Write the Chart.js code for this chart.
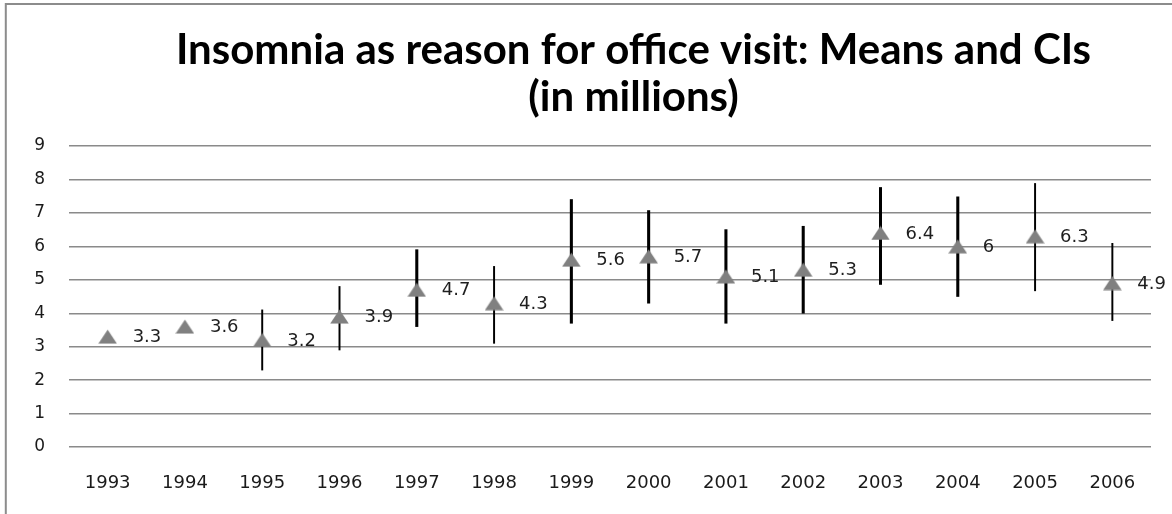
<!DOCTYPE html>
<html>
<head>
<meta charset="utf-8">
<script src="https://cdn.jsdelivr.net/npm/chart.js@4/dist/chart.umd.min.js"></script>
<style>
  html, body { margin: 0; padding: 0; background: #ffffff; }
  #wrap { width: 1172px; height: 514px; position: relative; }
</style>
</head>
<body>
<div id="wrap"><canvas id="c" width="1172" height="514"></canvas></div>
<script>
// ---- data ----
const years = ['1993','1994','1995','1996','1997','1998','1999','2000','2001','2002','2003','2004','2005','2006'];
const means = [3.3, 3.6, 3.2, 3.9, 4.7, 4.3, 5.6, 5.7, 5.1, 5.3, 6.4, 6.0, 6.3, 4.9];
const ciLow  = [null, null, 2.3, 2.9, 3.6, 3.1, 3.7, 4.3, 3.7, 4.0, 4.86, 4.5, 4.67, 3.78];
const ciHigh = [null, null, 4.1, 4.8, 5.9, 5.4, 7.4, 7.07, 6.5, 6.6, 7.76, 7.48, 7.88, 6.09];
const yTicks = [0, 1, 2, 3, 4, 5, 6, 7, 8, 9];
const titleLines = ['Insomnia as reason for office visit: Means and CIs', '(in millions)'];

// ---- styles ----
const thickBars = ['1997','1999','2000','2001','2002','2003','2004'];
const gridColor = '#8a8a8a';
const markerColor = '#808080';

// triangle marker image
const tri = document.createElement('canvas');
tri.width = 19; tri.height = 15;
(function () {
  const t = tri.getContext('2d');
  t.fillStyle = markerColor;
  t.beginPath();
  t.moveTo(9.5, 0.5);
  t.lineTo(18.8, 14.5);
  t.lineTo(0.2, 14.5);
  t.closePath();
  t.fill();
})();

const ciThick = years.map((y, i) => (ciLow[i] != null && thickBars.includes(y)) ? [ciLow[i], ciHigh[i]] : null);
const ciThin  = years.map((y, i) => (ciLow[i] != null && !thickBars.includes(y)) ? [ciLow[i], ciHigh[i]] : null);

const frame = {
  id: 'frame',
  beforeDraw(chart) {
    const ctx = chart.ctx;
    ctx.save();
    ctx.fillStyle = '#ffffff';
    ctx.fillRect(0, 0, chart.width, chart.height);
    ctx.strokeStyle = '#8c8c8c';
    ctx.lineWidth = 2;
    ctx.beginPath();
    ctx.moveTo(5.8, chart.height);
    ctx.lineTo(5.8, 4);
    ctx.lineTo(chart.width, 4);
    ctx.stroke();
    ctx.restore();
  }
};

const titleShift = {
  id: 'titleShift',
  afterLayout(chart) {
    if (chart.titleBlock) chart.titleBlock.left += 116;
  }
};

const valueLabels = {
  id: 'valueLabels',
  afterDatasetsDraw(chart) {
    const ctx = chart.ctx;
    const meta = chart.getDatasetMeta(0);
    ctx.save();
    ctx.font = '18px "DejaVu Sans"';
    ctx.fillStyle = '#1e1e1e';
    ctx.textAlign = 'left';
    ctx.textBaseline = 'middle';
    meta.data.forEach((pt, i) => {
      ctx.fillText(String(means[i]), pt.x + 25, pt.y + 1);
    });
    ctx.restore();
  }
};

new Chart(document.getElementById('c'), {
  type: 'bar',
  data: {
    labels: years,
    datasets: [
      {
        type: 'line',
        label: 'Mean',
        data: means,
        showLine: false,
        pointStyle: tri,
        pointRadius: 10,
        order: 0
      },
      {
        label: 'CI thick',
        data: ciThick,
        backgroundColor: '#000000',
        borderWidth: 0,
        barThickness: 2.4,
        grouped: false,
        order: 1
      },
      {
        label: 'CI thin',
        data: ciThin,
        backgroundColor: '#000000',
        borderWidth: 0,
        barThickness: 1.3,
        grouped: false,
        order: 1
      }
    ]
  },
  options: {
    responsive: false,
    animation: false,
    devicePixelRatio: 1,
    layout: { padding: { left: 0, right: 21, top: 0, bottom: 0 } },
    plugins: {
      legend: { display: false },
      tooltip: { enabled: false },
      title: {
        display: true,
        text: titleLines,
        color: '#000000',
        font: { family: 'Lato', weight: 'bold', size: 42, lineHeight: '47px' },
        padding: { top: 26.5, bottom: 25.5 }
      }
    },
    scales: {
      x: {
        grid: { display: false, drawTicks: false },
        border: { display: false },
        ticks: {
          color: '#1a1a1a',
          font: { family: 'DejaVu Sans', size: 18, lineHeight: 1.2 },
          padding: 25.2,
          maxRotation: 0,
          autoSkip: false
        },
        afterFit(s) { s.height = 67; }
      },
      y: {
        min: 0,
        max: 9,
        afterBuildTicks(s) { s.ticks = yTicks.map(v => ({ value: v })); },
        grid: { color: gridColor, lineWidth: 1.4, drawTicks: false },
        border: { display: false },
        ticks: {
          color: '#1a1a1a',
          font: { family: 'DejaVu Sans', size: 17 },
          padding: 24
        },
        afterFit(s) { s.width = 69; }
      }
    }
  },
  plugins: [frame, titleShift, valueLabels]
});
</script>
</body>
</html>
